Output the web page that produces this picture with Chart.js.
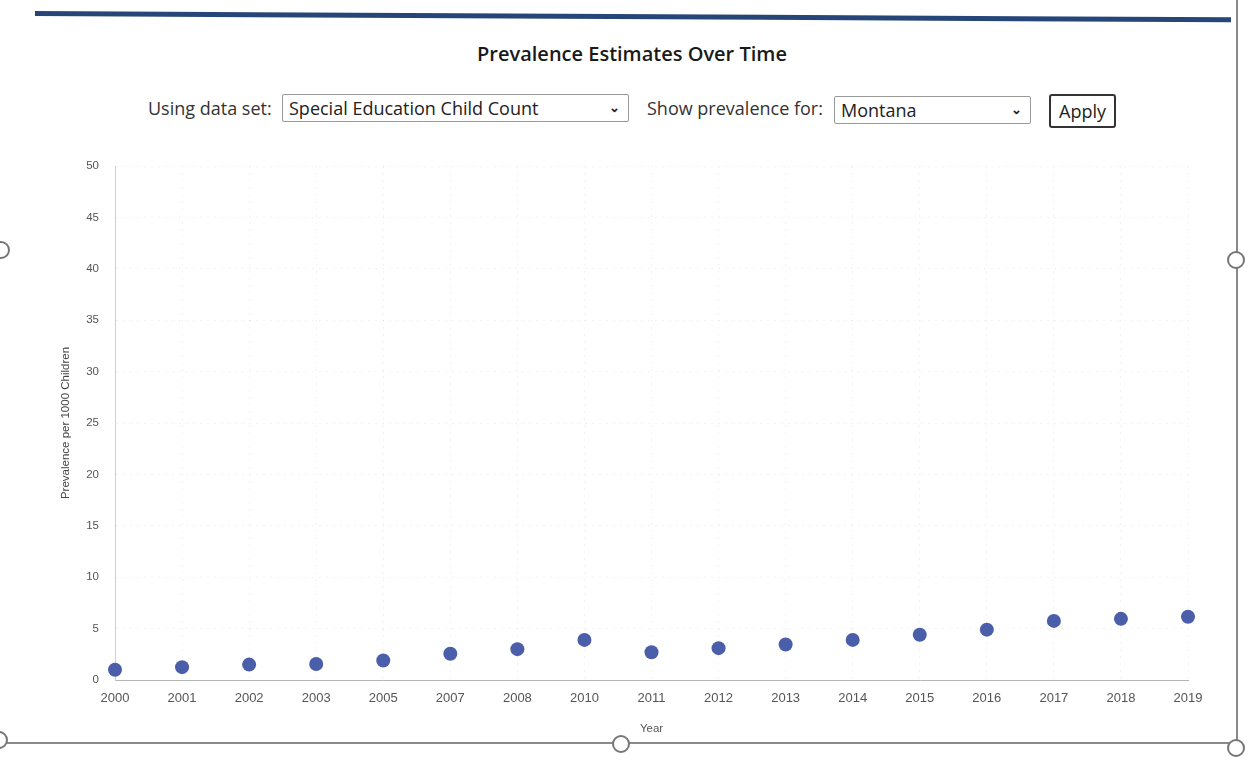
<!DOCTYPE html>
<html>
<head>
<meta charset="utf-8">
<title>Prevalence Estimates Over Time</title>
<script src="https://cdn.jsdelivr.net/npm/chart.js@4"></script>
<style>
  html, body { margin: 0; padding: 0; background: #fff; }
  body { width: 1251px; height: 762px; position: relative; overflow: hidden; font-family: 'Open Sans', sans-serif; color: #222; }
  .topbar { position: absolute; left: 35px; top: 11px; width: 1196px; height: 5px; background: #26467a; transform: rotate(0.3deg); transform-origin: left center; }
  .vline { position: absolute; left: 1236px; top: 0; width: 1.5px; height: 748px; background: #8a8a8a; }
  .hline { position: absolute; left: 4px; top: 742px; width: 1233px; height: 1.5px; background: #8a8a8a; }
  .handle { position: absolute; width: 14px; height: 14px; border: 2.5px solid #777; border-radius: 50%; background: #fff; }
  h1 { position: absolute; left: 0; width: 1264px; top: 40px; margin: 0; text-align: center; font-size: 20px; font-weight: 600; color: #1a1a1a; }
  .controls { position: absolute; top: 94px; left: 0; width: 1251px; height: 34px; font-size: 18px; color: #333; }
  .controls span, .controls .sel, .controls button { position: absolute; }
  .lbl { top: 2px; }
  .sel { top: 0; height: 28px; border: 1px solid #999; border-radius: 2px; box-sizing: border-box; padding: 1px 6px; font-size: 18px; line-height: 24px; color: #222; background: #fff; }
  .sel b { position: absolute; right: 8px; top: 0; font-size: 13px; font-weight: 700; }
  button { top: 0; width: 67px; height: 34px; border: 2px solid #333; border-radius: 3px; background: #fff; font-family: 'Open Sans', sans-serif; font-size: 18px; color: #222; padding: 0; }
  #wrap { position: absolute; left: 0; top: 140px; width: 1230px; height: 610px; }
</style>
</head>
<body>
<div class="topbar"></div>
<div class="vline"></div>
<div class="hline"></div>
<div class="handle" style="left:-8px; top:241px;"></div>
<div class="handle" style="left:1227px; top:251px;"></div>
<div class="handle" style="left:-10px; top:731px;"></div>
<div class="handle" style="left:612px; top:735px;"></div>
<div class="handle" style="left:1227px; top:739px;"></div>

<h1>Prevalence Estimates Over Time</h1>
<div class="controls">
  <span class="lbl" style="left:148px;">Using data set:</span>
  <div class="sel" style="left:282px; width:347px;">Special Education Child Count<b>&#8964;</b></div>
  <span class="lbl" style="left:647px;">Show prevalence for:</span>
  <div class="sel" style="left:834px; width:197px; top:2px;">Montana<b>&#8964;</b></div>
  <button style="left:1049px;">Apply</button>
</div>

<div id="wrap"><canvas id="prevChart"></canvas></div>

<script>
// ----- Data -----
const years = ['2000', '2001', '2002', '2003', '2005', '2007', '2008', '2010', '2011',
               '2012', '2013', '2014', '2015', '2016', '2017', '2018', '2019'];
const prevalence = [1.0, 1.25, 1.5, 1.55, 1.9, 2.55, 3.0, 3.9, 2.7,
                    3.1, 3.45, 3.9, 4.4, 4.9, 5.75, 5.95, 6.15];
const yTicks = [0, 5, 10, 15, 20, 25, 30, 35, 40, 45, 50];

const axisFont = { family: "'Liberation Sans', Arial, sans-serif", size: 11.5 };
const tickGrey = '#555';

new Chart(document.getElementById('prevChart'), {
  type: 'line',
  data: {
    labels: years,
    datasets: [{
      label: 'Montana',
      data: prevalence,
      showLine: false,
      pointRadius: 7,
      pointHoverRadius: 8,
      pointBackgroundColor: '#4a5ea9',
      pointBorderColor: '#4a5ea9',
      pointBorderWidth: 0
    }]
  },
  options: {
    responsive: true,
    maintainAspectRatio: false,
    animation: false,
    layout: { padding: { top: 26, right: 42, left: 0, bottom: 0 } },
    plugins: {
      legend: { display: false },
      tooltip: { enabled: true }
    },
    scales: {
      x: {
        offset: false,
        afterFit: s => { s.height = 70; },
        ticks: { color: tickGrey, font: { ...axisFont, size: 13 }, padding: 11, maxRotation: 0, autoSkip: false },
        grid: { color: 'rgba(0,0,0,0.05)', drawTicks: false },
        border: { display: true, color: '#b5b5b5', width: 1, dash: [2, 5] },
        title: { display: true, text: 'Year', color: tickGrey, font: axisFont, padding: { top: 0, bottom: 14 } }
      },
      y: {
        min: 0,
        max: 50,
        afterFit: s => { s.width = 115; },
        afterBuildTicks: s => { s.ticks = yTicks.map(v => ({ value: v })); },
        ticks: { color: tickGrey, font: axisFont, padding: 16 },
        grid: { color: 'rgba(0,0,0,0.05)', drawTicks: false },
        border: { display: true, color: '#d0d0d0', width: 1, dash: [2, 5] },
        title: { display: true, text: 'Prevalence per 1000 Children', color: '#444', font: axisFont, padding: { top: 59, bottom: 0 } }
      }
    }
  }
});
</script>
</body>
</html>
